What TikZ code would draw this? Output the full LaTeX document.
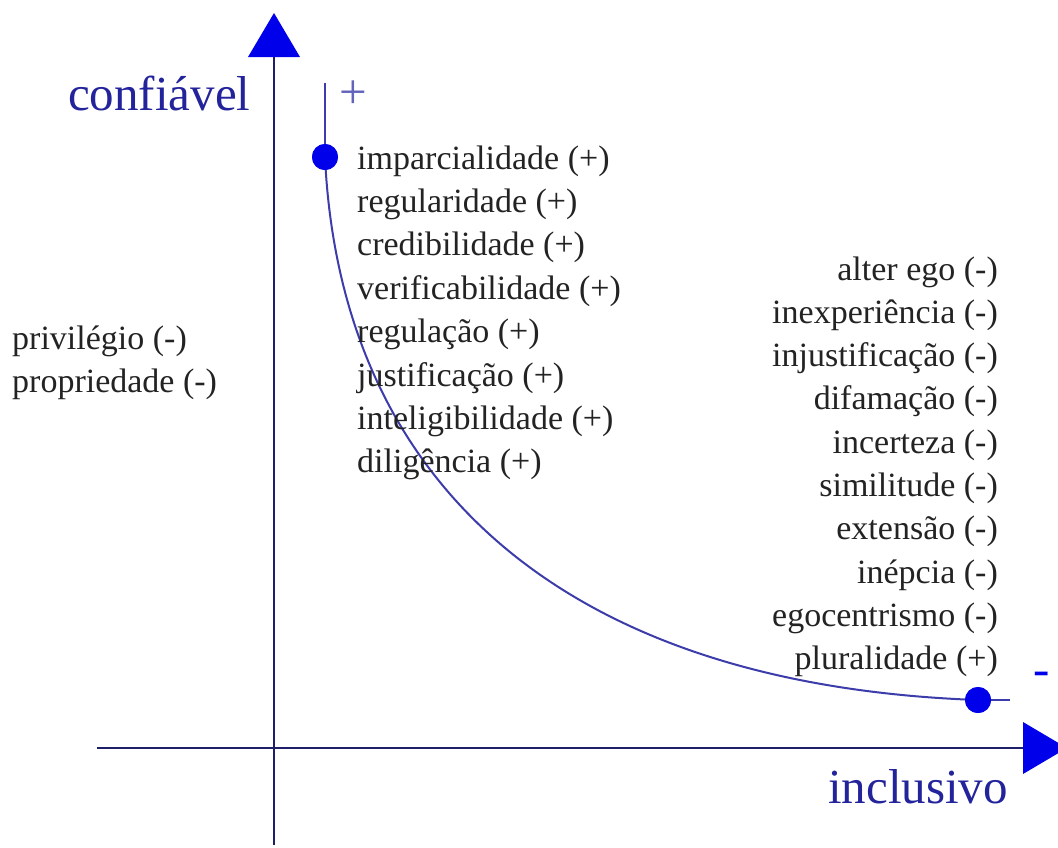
\documentclass[tikz,border=0pt]{standalone}
\usepackage{fontspec}
\setmainfont{Liberation Serif}
\definecolor{axisc}{RGB}{30,30,105}
\definecolor{headc}{RGB}{0,0,235}
\definecolor{labc}{RGB}{35,35,155}
\definecolor{curvec}{RGB}{60,60,170}
\definecolor{itemc}{RGB}{35,35,35}
\tikzset{
  axisline/.style={draw=axisc, line width=2.8pt},
  headshape/.style={fill=headc, draw=none},
  dotnode/.style={circle, fill=headc, draw=none, inner sep=0pt, minimum size=26pt},
  itemtext/.style={font=\fontsize{34}{40}\selectfont, text=itemc, inner sep=0pt},
  bigtext/.style={font=\fontsize{49}{56}\selectfont, text=labc, inner sep=0pt},
  signtext/.style={font=\fontsize{49}{56}\selectfont, text=curvec!80, inner sep=0pt},
  curveline/.style={draw=curvec, line width=2pt}
}
\begin{document}
\begin{tikzpicture}[x=1pt,y=-1pt]
\useasboundingbox[fill=white] (0,0) rectangle (1058,847);
% axes
\coordinate (vb) at (274,845);
\coordinate (vt) at (274,57);
\coordinate (hl) at (97,748);
\coordinate (hr) at (1023,748);
\draw[axisline] (vb) -- (vt);
\draw[axisline] (hl) -- (hr);
\fill[headshape] (274,13) -- (248,57) -- (300,57) -- cycle;
\fill[headshape] (1067,748) -- (1023,722) -- (1023,774) -- cycle;
% axis labels
\node[bigtext, anchor=base west] (conf) at (68,110) {confiável};
\node[bigtext, anchor=base west] (incl) at (828,803) {inclusivo};
% curve with end dots
\coordinate (ttop) at (325,83);
\coordinate (tright) at (1010,700);
\node[dotnode] (d1) at (325,157) {};
\node[dotnode] (d2) at (978,700) {};
\draw[curveline] (ttop) -- (d1.center);
\draw[curveline] (d2.center) -- (tright);
\draw[curveline] (d1.center) .. controls (340,480) and (560,685) .. (d2.center);
\node[dotnode] at (d1) {};
\node[dotnode] at (d2) {};
% signs
\node[signtext, anchor=base] (plus) at (353,108) {+};
\node[signtext, anchor=base, text=headc] (minus) at (1042,685) {-};
% left items
\node[itemtext, anchor=base west] (l1) at (12,349) {privilégio (-)};
\node[itemtext, anchor=base west] (l2) at (12,392) {propriedade (-)};
% middle column
\node[itemtext, anchor=base west] (m1) at (357,169.0) {imparcialidade (+)};
\node[itemtext, anchor=base west] (m2) at (357,212.4) {regularidade (+)};
\node[itemtext, anchor=base west] (m3) at (357,255.8) {credibilidade (+)};
\node[itemtext, anchor=base west] (m4) at (357,299.2) {verificabilidade (+)};
\node[itemtext, anchor=base west] (m5) at (357,342.6) {regulação (+)};
\node[itemtext, anchor=base west] (m6) at (357,386.0) {justificação (+)};
\node[itemtext, anchor=base west] (m7) at (357,429.4) {inteligibilidade (+)};
\node[itemtext, anchor=base west] (m8) at (357,472.8) {diligência (+)};
% right column
\node[itemtext, anchor=base east] (r1) at (998,280.0) {alter ego (-)};
\node[itemtext, anchor=base east] (r2) at (998,323.3) {inexperiência (-)};
\node[itemtext, anchor=base east] (r3) at (998,366.6) {injustificação (-)};
\node[itemtext, anchor=base east] (r4) at (998,409.9) {difamação (-)};
\node[itemtext, anchor=base east] (r5) at (998,453.2) {incerteza (-)};
\node[itemtext, anchor=base east] (r6) at (998,496.5) {similitude (-)};
\node[itemtext, anchor=base east] (r7) at (998,539.8) {extensão (-)};
\node[itemtext, anchor=base east] (r8) at (998,583.1) {inépcia (-)};
\node[itemtext, anchor=base east] (r9) at (998,626.4) {egocentrismo (-)};
\node[itemtext, anchor=base east] (r10) at (998,669.7) {pluralidade (+)};
\end{tikzpicture}
\end{document}
